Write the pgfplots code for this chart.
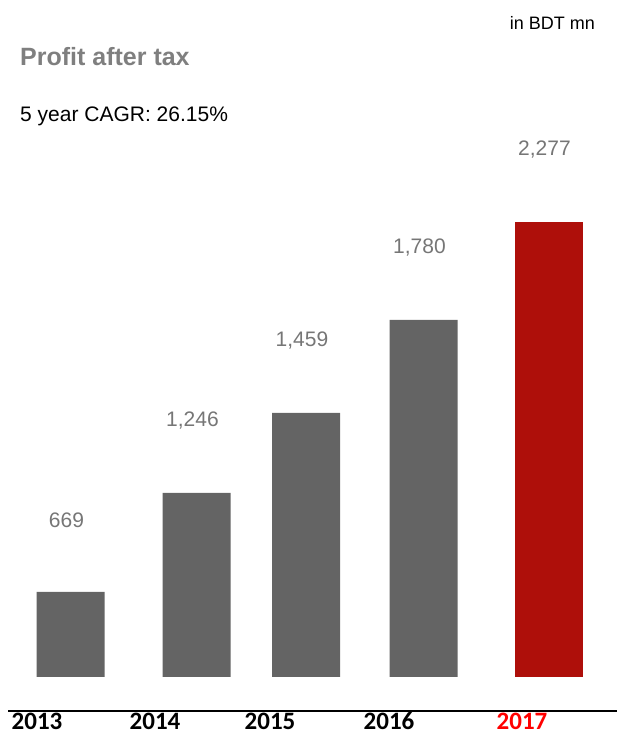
\documentclass[border=0pt]{standalone}
\usepackage{pgfplots}
\pgfplotsset{compat=1.18}
\usepackage{fontspec}
\setmainfont{Liberation Sans}
\newfontfamily\calfont{Carlito}
\definecolor{bargray}{RGB}{100,100,100}
\definecolor{barred}{RGB}{174,15,10}
\definecolor{lblgray}{RGB}{118,118,118}
\definecolor{titlegray}{RGB}{127,127,127}
\begin{document}
\begin{tikzpicture}
\useasboundingbox (0,0) rectangle (617pt,737pt);
\begin{axis}[
  at={(0,0)}, anchor=south west,
  width=617pt, height=737pt, scale only axis,
  xmin=0, xmax=617, ymin=-60, ymax=677,
  hide axis, clip=false,
  bar width=68,
  nodes near coords,
  point meta=explicit symbolic,
  every node near coord/.append style={anchor=center, yshift=72pt, xshift=-4pt,
     font=\fontsize{21}{24}\selectfont, text=lblgray},
]
\addplot[ybar, fill=bargray, draw=none] coordinates {
  (70.5,85) [669]
  (196.5,184) [1,246]
  (306,264) [1,459]
  (423.5,357) [1,780]
};
\addplot[ybar, fill=barred, draw=none] coordinates {
  (548.5,455) [2,277]
};
\draw[black, line width=2pt] (axis cs:8,-34) -- (axis cs:617,-34);
\tikzset{yearlbl/.style={anchor=base, inner sep=0pt, font=\calfont\bfseries\fontsize{25}{30}\selectfont}}
\node[yearlbl] at (axis cs:37,-53) {2013};
\node[yearlbl] at (axis cs:155,-53) {2014};
\node[yearlbl] at (axis cs:270,-53) {2015};
\node[yearlbl] at (axis cs:389,-53) {2016};
\node[yearlbl, text=red] at (axis cs:522,-53) {2017};
\node[anchor=base west, inner sep=0pt, font=\bfseries\fontsize{25}{30}\selectfont, text=titlegray] at (axis cs:20,611) {Profit after tax};
\node[anchor=base west, inner sep=0pt, font=\fontsize{21}{25}\selectfont] at (axis cs:20,555) {5 year CAGR: 26.15\%};
\node[anchor=base east, inner sep=0pt, font=\fontsize{18}{22}\selectfont] at (axis cs:595,647) {in BDT mn};
\end{axis}
\end{tikzpicture}
\end{document}
